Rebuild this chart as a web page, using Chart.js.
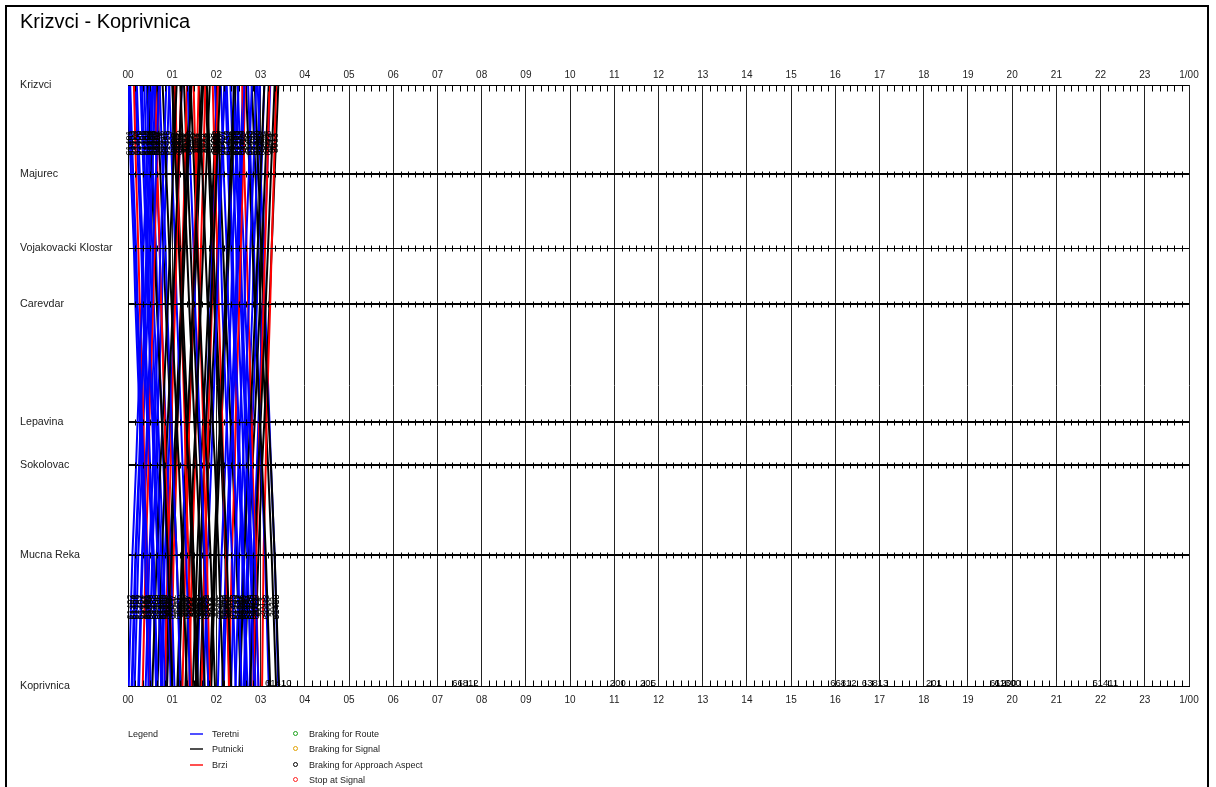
<!DOCTYPE html>
<html>
<head>
<meta charset="utf-8">
<script src="https://cdn.jsdelivr.net/npm/chart.js@4.4.0/dist/chart.umd.min.js"></script>
<style>
body { margin: 0; background: #fff; font-family: "Liberation Sans", Arial, sans-serif; }
#frame { position: absolute; left: 5px; top: 5px; width: 1200px; height: 800px; border: 2px solid #000; }
#title { position: absolute; left: 20px; top: 10px; font-size: 20px; color: #000; }
#chart { position: absolute; left: 0; top: 0; }
.lg { position: absolute; font-size: 9px; color: #222; line-height: 10px; white-space: nowrap; }
.ln { position: absolute; width: 13px; height: 2px; }
.mk { position: absolute; width: 3px; height: 3px; border: 1px solid; border-radius: 3px; }
</style>
</head>
<body>
<div id="frame"></div>
<canvas id="chart" width="1216" height="787"></canvas>
<div id="title">Krizvci - Koprivnica</div>

<div class="lg" style="left:128px;top:729px">Legend</div>
<div class="ln" style="left:190px;top:733px;background:#5050ff"></div>
<div class="lg" style="left:212px;top:729px">Teretni</div>
<div class="ln" style="left:190px;top:748px;background:#505050"></div>
<div class="lg" style="left:212px;top:744px">Putnicki</div>
<div class="ln" style="left:190px;top:764px;background:#ff5050"></div>
<div class="lg" style="left:212px;top:760px">Brzi</div>
<div class="mk" style="left:293px;top:731px;border-color:#1aa01a"></div>
<div class="lg" style="left:309px;top:729px">Braking for Route</div>
<div class="mk" style="left:293px;top:746px;border-color:#e0a000"></div>
<div class="lg" style="left:309px;top:744px">Braking for Signal</div>
<div class="mk" style="left:293px;top:762px;border-color:#000"></div>
<div class="lg" style="left:309px;top:760px">Braking for Approach Aspect</div>
<div class="mk" style="left:293px;top:777px;border-color:#ff2020"></div>
<div class="lg" style="left:309px;top:775px">Stop at Signal</div>

<script>
// stations (top to bottom) and their distance in km
var stations = ['Krizvci', 'Majurec', 'Vojakovacki Klostar', 'Carevdar', 'Lepavina', 'Sokolovac', 'Mucna Reka', 'Koprivnica'];
var stationKm = [0, 7.4, 13.6, 18.2, 28.0, 31.6, 39.1, 50.0];

var hourLabels = ['00', '01', '02', '03', '04', '05', '06', '07', '08', '09', '10', '11', '12',
    '13', '14', '15', '16', '17', '18', '19', '20', '21', '22', '23', '1/00'];

// T = Teretni, P = Putnicki, B = Brzi
var typeColors = { T: '#0000ff', P: '#000000', B: '#ff0000' };

var trainNumbers = ['61401', '61402', '61403', '61404', '2001', '61405', '61406', '61407', '61408', '2002',
    '61409', '61411', '3001', '61413', '3002', '2003', '3003', '61415', '3004', '2004',
    '3005', '61417', '3006', '2005', '3007', '3008', '2006', '3009', '61419', '3010',
    '2007', '3011', '3012', '2008', '61421', '3013', '3014', '2009', '61423', '61425',
    '61427', '61429', '61431', '2010', '61433', '61435', '61437', '61439', '3015', '2011',
    '61441', '3016', '61443', '3017', '2012', '61410', '2013',
    '61451', '61452', '61453', '61454', '61455', '61456', '61458', '61457', '3021', '61460',
    '3022', '2021', '3023', '3024', '3025', '2022', '3026', '61462', '3027', '3028',
    '3029', '3030', '61464', '61459', '61461', '61463', '61466', '3031', '61468', '3032',
    '3033', '61465'];

var trainTypes = ['T', 'T', 'T', 'T', 'B', 'T', 'T', 'T', 'T', 'B',
    'T', 'T', 'P', 'T', 'P', 'B', 'P', 'T', 'P', 'B',
    'P', 'T', 'P', 'B', 'P', 'P', 'B', 'P', 'T', 'P',
    'B', 'P', 'P', 'B', 'T', 'P', 'P', 'B', 'T', 'T',
    'T', 'T', 'T', 'B', 'T', 'T', 'T', 'T', 'P', 'B',
    'T', 'P', 'T', 'P', 'B', 'P', 'B',
    'T', 'T', 'T', 'T', 'T', 'T', 'T', 'T', 'P', 'T',
    'P', 'B', 'P', 'P', 'P', 'B', 'P', 'T', 'P', 'P',
    'P', 'P', 'T', 'T', 'T', 'T', 'T', 'P', 'T', 'P',
    'P', 'T'];

// minutes after midnight at each station, Krizvci .. Koprivnica
var trainTimes = [
    [0, 4, 8, 10, 16, 18, 23, 28],
    [29, 25, 21, 19, 13, 11, 6, 1],
    [3, 7, 11, 13, 19, 21, 26, 31],
    [33, 29, 25, 23, 17, 15, 10, 5],
    [8, 11, 14, 16, 21, 22, 26, 30],
    [37, 33, 29, 27, 21, 19, 14, 9],
    [12, 16, 20, 22, 28, 30, 35, 40],
    [42, 38, 34, 32, 26, 24, 19, 14],
    [17, 21, 25, 27, 33, 35, 40, 45],
    [42, 39, 36, 34, 29, 28, 24, 20],
    [22, 26, 30, 32, 38, 40, 45, 50],
    [52, 48, 44, 42, 36, 34, 29, 24],
    [27, 32, 36, 39, 46, 49, 54, 60],
    [30, 34, 38, 40, 46, 48, 53, 58],
    [66, 61, 57, 54, 47, 44, 39, 33],
    [37, 40, 43, 45, 50, 51, 55, 59],
    [73, 68, 64, 61, 54, 51, 46, 40],
    [43, 47, 51, 53, 59, 61, 66, 71],
    [47, 52, 56, 59, 66, 69, 74, 80],
    [72, 69, 66, 64, 59, 58, 54, 50],
    [86, 81, 77, 74, 67, 64, 59, 53],
    [56, 60, 64, 66, 72, 74, 79, 84],
    [60, 65, 69, 72, 79, 82, 87, 93],
    [64, 67, 70, 72, 77, 78, 82, 86],
    [100, 95, 91, 88, 81, 78, 73, 67],
    [71, 76, 80, 83, 90, 93, 98, 104],
    [96, 93, 90, 88, 83, 82, 78, 74],
    [111, 106, 102, 99, 92, 89, 84, 78],
    [81, 85, 89, 91, 97, 99, 104, 109],
    [85, 90, 94, 97, 104, 107, 112, 118],
    [89, 92, 95, 97, 102, 103, 107, 111],
    [125, 120, 116, 113, 106, 103, 98, 92],
    [96, 101, 105, 108, 115, 118, 123, 129],
    [122, 119, 116, 114, 109, 108, 104, 100],
    [131, 127, 123, 121, 115, 113, 108, 103],
    [107, 112, 116, 119, 126, 129, 134, 140],
    [144, 139, 135, 132, 125, 122, 117, 111],
    [115, 118, 121, 123, 128, 129, 133, 137],
    [118, 122, 126, 128, 134, 136, 141, 146],
    [150, 146, 142, 140, 134, 132, 127, 122],
    [126, 130, 134, 136, 142, 144, 149, 154],
    [158, 154, 150, 148, 142, 140, 135, 130],
    [134, 138, 142, 144, 150, 152, 157, 162],
    [159, 156, 153, 151, 146, 145, 141, 137],
    [168, 164, 160, 158, 152, 150, 145, 140],
    [143, 147, 151, 153, 159, 161, 166, 171],
    [174, 170, 166, 164, 158, 156, 151, 146],
    [149, 153, 157, 159, 165, 167, 172, 177],
    [185, 180, 176, 173, 166, 163, 158, 152],
    [155, 158, 161, 163, 168, 169, 173, 177],
    [185, 181, 177, 175, 169, 167, 162, 157],
    [160, 165, 169, 172, 179, 182, 187, 193],
    [163, 167, 171, 173, 179, 181, 186, 191],
    [199, 194, 190, 187, 180, 177, 172, 166],
    [192, 189, 186, 184, 179, 178, 174, 170],
    [172, 177, 181, 184, 191, 194, 199, 205],
    [201, 198, 195, 193, 188, 187, 184, 182],
    [2, 6, 10, 12, 18, 20, 25, 30],
    [34, 30, 26, 24, 18, 16, 11, 6],
    [10, 14, 18, 20, 26, 28, 33, 38],
    [43, 39, 35, 33, 27, 25, 20, 15],
    [19, 23, 27, 29, 35, 37, 42, 47],
    [25, 29, 33, 35, 41, 43, 48, 53],
    [56, 52, 48, 46, 40, 38, 33, 28],
    [35, 39, 43, 45, 51, 53, 58, 63],
    [39, 44, 48, 51, 58, 61, 66, 72],
    [73, 69, 65, 63, 57, 55, 50, 45],
    [84, 79, 75, 72, 65, 62, 57, 51],
    [80, 77, 74, 72, 67, 66, 62, 58],
    [62, 67, 71, 74, 81, 84, 89, 95],
    [102, 97, 93, 90, 83, 80, 75, 69],
    [76, 81, 85, 88, 95, 98, 103, 109],
    [105, 102, 99, 97, 92, 91, 87, 83],
    [121, 116, 112, 109, 102, 99, 94, 88],
    [122, 118, 114, 112, 106, 104, 99, 94],
    [131, 126, 122, 119, 112, 109, 104, 98],
    [105, 110, 114, 117, 124, 127, 132, 138],
    [146, 141, 137, 134, 127, 124, 119, 113],
    [120, 125, 129, 132, 139, 142, 147, 153],
    [156, 152, 148, 146, 140, 138, 133, 128],
    [132, 136, 140, 142, 148, 150, 155, 160],
    [139, 143, 147, 149, 155, 157, 162, 167],
    [145, 149, 153, 155, 161, 163, 168, 173],
    [179, 175, 171, 169, 163, 161, 156, 151],
    [191, 186, 182, 179, 172, 169, 164, 158],
    [193, 189, 185, 183, 177, 175, 170, 165],
    [168, 173, 177, 180, 187, 190, 195, 201],
    [204, 199, 195, 192, 185, 182, 177, 171],
    [176, 180, 184, 186, 192, 194, 199, 204]
];

// train numbers written along the Koprivnica line (minutes)
var stubNumbers = ['61410', '66812', '200', '205', '66812', '63813', '201', '61200', '61300', '61411'];
var stubTimes = [186, 440, 654, 695, 953, 996, 1083, 1170, 1176, 1309];

var datasets = trainNumbers.map(function (num, i) {
    return {
        label: num,
        data: trainTimes[i].map(function (t, k) { return { x: t, y: stationKm[k] }; }),
        borderColor: typeColors[trainTypes[i]],
        borderWidth: 2,
        pointRadius: 0,
        fill: false,
        tension: 0
    };
});

var graphExtras = {
    id: 'graphExtras',
    afterDatasetsDraw: function (chart) {
        var ctx = chart.ctx, x = chart.scales.x, y = chart.scales.y, area = chart.chartArea;
        var last = stationKm.length - 1;
        ctx.save();
        // station lines with 10 minute ticks
        ctx.strokeStyle = '#000';
        ctx.lineWidth = 1;
        stationKm.forEach(function (km, k) {
            var py = Math.round(y.getPixelForValue(km)) + 0.5;
            ctx.beginPath();
            ctx.moveTo(area.left, py);
            ctx.lineTo(area.right, py);
            var a = k === 0 ? 0 : (k === last ? -6 : -3);
            var b = k === 0 ? 6 : (k === last ? 0 : 3);
            for (var m = 10; m < 1440; m += 10) {
                if (m % 60 === 0) continue;
                var px = Math.round(x.getPixelForValue(m)) + 0.5;
                ctx.moveTo(px, py + a);
                ctx.lineTo(px, py + b);
            }
            ctx.stroke();
        });
        // train numbers, written upwards
        ctx.fillStyle = '#000';
        ctx.font = '9px "Liberation Sans", Arial, sans-serif';
        ctx.textAlign = 'center';
        ctx.textBaseline = 'middle';
        chart.data.datasets.forEach(function (ds, i) {
            var pts = chart.getDatasetMeta(i).data;
            [143, 607].forEach(function (ty) {
                for (var j = 0; j < pts.length - 1; j++) {
                    var p0 = pts[j], p1 = pts[j + 1];
                    if ((ty - p0.y) * (ty - p1.y) <= 0 && p0.y !== p1.y) {
                        var tx = p0.x + (p1.x - p0.x) * (ty - p0.y) / (p1.y - p0.y);
                        ctx.save();
                        ctx.translate(tx, ty);
                        ctx.rotate(-Math.PI / 2);
                        ctx.fillText(ds.label, 0, 0);
                        ctx.restore();
                        break;
                    }
                }
            });
        });
        // numbers sitting on the Koprivnica line
        ctx.font = '9.5px "Liberation Sans", Arial, sans-serif';
        ctx.textAlign = 'left';
        var by = y.getPixelForValue(stationKm[last]);
        stubNumbers.forEach(function (n, i) {
            ctx.fillText(n, x.getPixelForValue(stubTimes[i]), by - 3);
        });
        ctx.restore();
    }
};

var tickFont = { family: '"Liberation Sans", Arial, sans-serif', size: 10 };
var stationFont = { family: '"Liberation Sans", Arial, sans-serif', size: 10.7 };

new Chart(document.getElementById('chart'), {
    type: 'line',
    data: { datasets: datasets },
    options: {
        responsive: false,
        animation: false,
        layout: { padding: { left: 20, right: 27, top: 0, bottom: 0 } },
        plugins: { legend: { display: false }, title: { display: false }, tooltip: { enabled: false } },
        scales: {
            x: {
                type: 'linear', position: 'bottom', min: 0, max: 1440,
                ticks: {
                    stepSize: 60, autoSkip: false, maxRotation: 0, padding: 8, color: '#222', font: tickFont,
                    callback: function (v) { return hourLabels[v / 60]; }
                },
                grid: { color: '#222', drawTicks: false },
                border: { color: '#000' },
                afterFit: function (s) { s.height = 101; s.paddingLeft = 0; s.paddingRight = 0; }
            },
            x2: {
                type: 'linear', position: 'top', min: 0, max: 1440,
                ticks: {
                    stepSize: 60, autoSkip: false, maxRotation: 0, padding: 4, color: '#222', font: tickFont,
                    callback: function (v) { return hourLabels[v / 60]; }
                },
                grid: { display: false, drawTicks: false },
                border: { display: false },
                afterFit: function (s) { s.height = 85; s.paddingLeft = 0; s.paddingRight = 0; }
            },
            y: {
                type: 'linear', reverse: true, min: 0, max: 50,
                afterBuildTicks: function (s) {
                    s.ticks = stationKm.map(function (v) { return { value: v }; });
                },
                ticks: {
                    crossAlign: 'far', color: '#222', font: stationFont,
                    callback: function (v) { return stations[stationKm.indexOf(v)]; }
                },
                grid: { color: '#000', drawTicks: false },
                border: { color: '#000' },
                afterFit: function (s) { s.width = 108; s.paddingTop = 0; s.paddingBottom = 0; }
            }
        }
    },
    plugins: [graphExtras]
});
</script>
</body>
</html>
